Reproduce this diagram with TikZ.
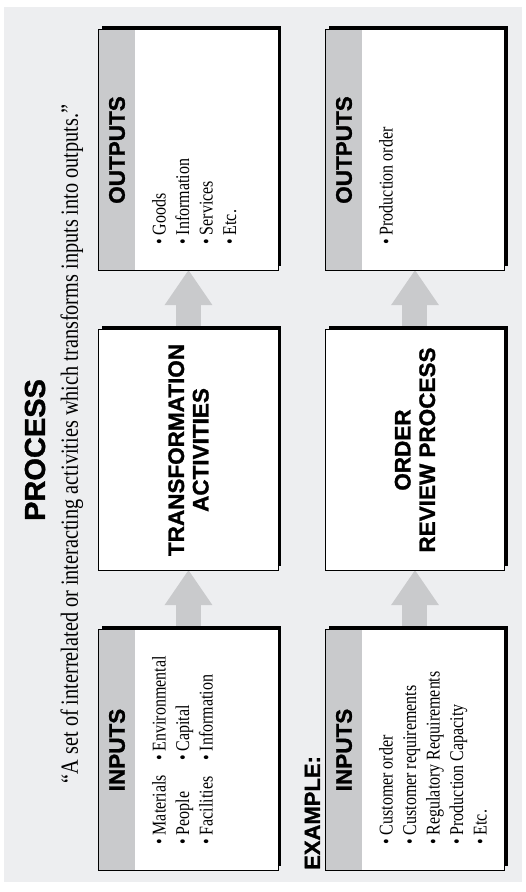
\documentclass[tikz,border=0pt]{standalone}
\usepackage{fontspec}
\setmainfont{Liberation Serif}[FakeStretch=0.82]
\newfontfamily\headfont{Liberation Sans}[UprightFont=* Bold, FakeBold=1.2]
\usetikzlibrary{arrows.meta, backgrounds}

\definecolor{light-grey}{RGB}{237, 238, 240}
\definecolor{mid-grey}{RGB}{201, 202, 204}

\begin{document}
\begin{tikzpicture}[
        x=1pt, y=1pt,
        procbox/.style={shape=rectangle, fill=white, minimum width=240pt, minimum height=179pt, inner sep=0pt},
        shadowbox/.style={procbox, fill=black},
        band/.style={shape=rectangle, fill=mid-grey, minimum width=240pt, minimum height=36pt, inner sep=0pt,
            font=\headfont\fontsize{22.5}{25}\selectfont},
        boxline/.style={draw=black, line width=0.8pt},
        bigarrow/.style={draw=mid-grey, line width=25pt, -{Triangle[length=35pt, width=48pt, line width=0pt]}},
        items/.style={anchor=north west, align=left, inner sep=0pt, font=\fontsize{19.5}{23.5}\selectfont},
        heading/.style={align=center, inner sep=0pt, font=\headfont\fontsize{22.5}{24.5}\selectfont},
    ]
    \begin{scope}[rotate=90, transform shape]
        \useasboundingbox (0,0) rectangle (892,526);
        \begin{scope}[on background layer]
            \fill[light-grey] (10,4) rectangle (885,522);
        \end{scope}

        % title
        \node[anchor=base, inner sep=0pt, font=\headfont\fontsize{29}{30}\selectfont] (title) at (442,481) {PROCESS};
        \node[anchor=base, inner sep=0pt, font=\fontsize{24.7}{27}\selectfont] (quote) at (448,448)
            {“A set of interrelated or interacting activities which transforms inputs into outputs.”};

        % general process
        \node[shadowbox] (in-sh) at (145.5,334) {};
        \node[procbox] (in) at (142,337.5) {};
        \node[band] (in-head) at (142,409) {INPUTS};
        \draw[boxline] (in.south west) rectangle (in.north east);
        \node[items] (in-list1) at (47,374) {\textbullet\ Materials\\\textbullet\ People\\\textbullet\ Facilities};
        \node[items] (in-list2) at (131,374) {\textbullet\ Environmental\\\textbullet\ Capital\\\textbullet\ Information};

        \node[shadowbox] (tr-sh) at (445.5,334) {};
        \node[procbox] (tr) at (442,337.5) {};
        \draw[boxline] (tr.south west) rectangle (tr.north east);
        \node[heading] (tr-text) at (tr) {TRANSFORMATION\\ACTIVITIES};

        \node[shadowbox] (out-sh) at (745.5,334) {};
        \node[procbox] (out) at (742,337.5) {};
        \node[band] (out-head) at (742,409) {OUTPUTS};
        \draw[boxline] (out.south west) rectangle (out.north east);
        \node[items] (out-list) at (647,374) {\textbullet\ Goods\\\textbullet\ Information\\\textbullet\ Services\\\textbullet\ Etc.};

        % example
        \node[anchor=base west, inner sep=0pt, font=\headfont\fontsize{22}{24}\selectfont] (example) at (22,206) {EXAMPLE:};

        \node[shadowbox] (ex-in-sh) at (145.5,107.5) {};
        \node[procbox] (ex-in) at (142,111) {};
        \node[band] (ex-in-head) at (142,182) {INPUTS};
        \draw[boxline] (ex-in.south west) rectangle (ex-in.north east);
        \node[items] (ex-in-list) at (47,147) {\textbullet\ Customer order\\\textbullet\ Customer requirements\\\textbullet\ Regulatory Requirements\\\textbullet\ Production Capacity\\\textbullet\ Etc.};

        \node[shadowbox] (ex-tr-sh) at (445.5,107.5) {};
        \node[procbox] (ex-tr) at (442,111) {};
        \draw[boxline] (ex-tr.south west) rectangle (ex-tr.north east);
        \node[heading] (ex-tr-text) at (ex-tr) {ORDER\\REVIEW PROCESS};

        \node[shadowbox] (ex-out-sh) at (745.5,107.5) {};
        \node[procbox] (ex-out) at (742,111) {};
        \node[band] (ex-out-head) at (742,182) {OUTPUTS};
        \draw[boxline] (ex-out.south west) rectangle (ex-out.north east);
        \node[items] (ex-out-list) at (647,147) {\textbullet\ Production order};

        % arrows under the boxes
        \begin{scope}[on background layer]
            \draw[bigarrow] (in.east) -- (tr.west);
            \draw[bigarrow] (tr.east) -- (out.west);
            \draw[bigarrow] (ex-in.east) -- (ex-tr.west);
            \draw[bigarrow] (ex-tr.east) -- (ex-out.west);
        \end{scope}
    \end{scope}
\end{tikzpicture}
\end{document}
